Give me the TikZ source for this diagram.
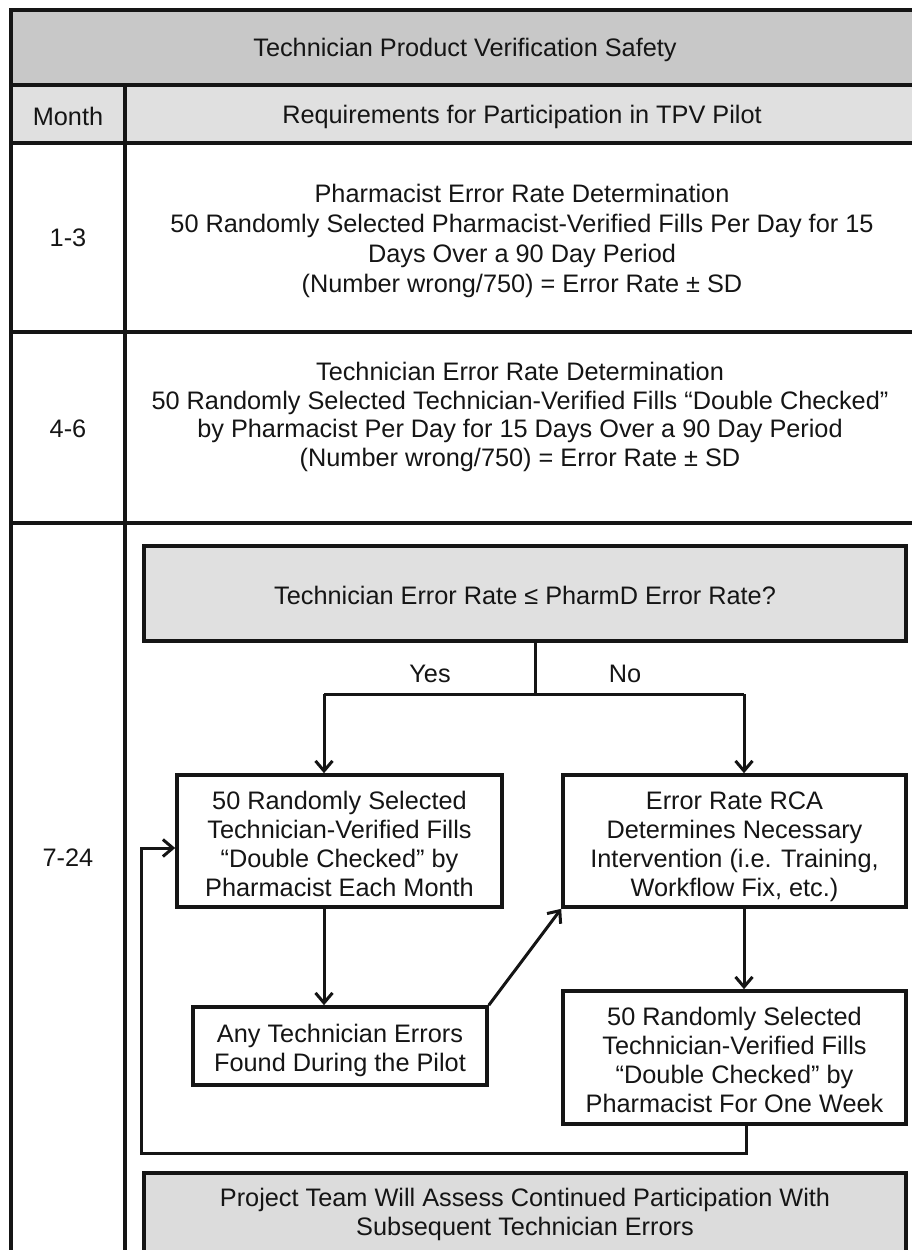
\documentclass[tikz,border=0pt]{standalone}
\usepackage{fontspec}
\setmainfont{Liberation Sans}
\usetikzlibrary{arrows.meta,shadows}
\definecolor{titlegray}{HTML}{C8C8C8}
\definecolor{headgray}{HTML}{E0E0E0}
\definecolor{decgray}{HTML}{E0E0E0}
\definecolor{egray}{HTML}{DCDCDC}
\definecolor{ink}{HTML}{151515}
\begin{document}
\begin{tikzpicture}[x=1pt,y=-1pt,
  font=\fontsize{25.3}{29}\selectfont,
  tline/.style={line width=4pt, draw=ink},
  box/.style={draw=ink, line width=3.6pt, fill=white, inner sep=0pt,
    drop shadow={shadow xshift=2pt, shadow yshift=-2pt, opacity=0.25, fill=black}},
  conn/.style={line width=3pt, draw=ink},
  arr/.style={conn, -{Straight Barb[length=10pt,width=17pt,line width=3pt]}},
  lbl/.style={inner sep=0pt, align=center, text=ink}]
\clip (0,0) rectangle (912,1250);
\fill[white] (0,0) rectangle (912,1250);
% table
\fill[titlegray] (11,10) rectangle (918,85);
\fill[headgray] (11,85) rectangle (918,143);
\draw[tline] (11,10) rectangle (918,1300);
\draw[tline] (11,85) -- (918,85);
\draw[tline] (11,143) -- (918,143);
\draw[tline] (11,332) -- (918,332);
\draw[tline] (11,523) -- (918,523);
\draw[tline] (125,85) -- (125,1300);
% table texts
\node[lbl] (title) at (465,50) {Technician Product Verification Safety};
\node[lbl] (mh) at (68,116.5) {Month};
\node[lbl] (rh) at (522,117) {Requirements for Participation in TPV Pilot};
\node[lbl] (m1) at (68,238) {1-3};
\node[lbl, font=\fontsize{25.3}{30}\selectfont] (r1) at (522,241)
  {Pharmacist Error Rate Determination\\50 Randomly Selected Pharmacist-Verified Fills Per Day for 15\\Days Over a 90 Day Period\\(Number wrong/750) = Error Rate ± SD};
\node[lbl] (m2) at (68,429) {4-6};
\node[lbl, font=\fontsize{25.3}{28.5}\selectfont] (r2) at (520,417)
  {Technician Error Rate Determination\\50 Randomly Selected Technician-Verified Fills “Double Checked”\\by Pharmacist Per Day for 15 Days Over a 90 Day Period\\(Number wrong/750) = Error Rate ± SD};
\node[lbl] (m3) at (68,858) {7-24};
% flow boxes
\node[box, fill=decgray, minimum width=762pt, minimum height=95pt] (dec) at (525,593.5) {};
\node[lbl] (dect) at (525,595.5) {Technician Error Rate ≤ PharmD Error Rate?};
\node[box, minimum width=325pt, minimum height=132pt] (A) at (339.5,841) {};
\node[lbl] (At) at (339.5,843.5)
  {50 Randomly Selected\\Technician-Verified Fills\\“Double Checked” by\\Pharmacist Each Month};
\node[box, minimum width=343pt, minimum height=132pt] (B) at (734.5,841) {};
\node[lbl] (Bt) at (734.5,847)
  {Error Rate RCA\\Determines Necessary\\Intervention (i.e. Training,\\Workflow Fix, etc.)};
\node[box, minimum width=294pt, minimum height=78pt] (C) at (340,1046) {};
\node[lbl] (Ct) at (340,1050)
  {Any Technician Errors\\Found During the Pilot};
\node[box, minimum width=343pt, minimum height=133pt] (D) at (734.5,1057.5) {};
\node[lbl] (Dt) at (734.5,1060)
  {50 Randomly Selected\\Technician-Verified Fills\\“Double Checked” by\\Pharmacist For One Week};
\node[box, fill=egray, minimum width=762pt, minimum height=97pt] (E) at (525,1221.5) {};
\node[lbl] (Et) at (525,1214.5)
  {Project Team Will Assess Continued Participation With\\Subsequent Technician Errors};
% labels
\node[lbl] (yes) at (430,674) {Yes};
\node[lbl] (no) at (625,674) {No};
% helper coordinates
\coordinate (split) at (535,694);
\coordinate (ya) at (324,694);
\coordinate (na) at (744,694);
\coordinate (xa) at (324,0);
\coordinate (xb) at (744,0);
\coordinate (xd) at (746,0);
\coordinate (xf) at (141,0);
\coordinate (yf) at (0,1153);
\coordinate (yin) at (0,848);
% connectors
\draw[conn] (dec.south -| split) -- (split);
\draw[conn] (ya) -- (na);
\draw[arr] (ya) -- (A.north -| xa);
\draw[arr] (na) -- (B.north -| xb);
\draw[arr] (A.south -| xa) -- (C.north -| xa);
\draw[arr] (C.north east) -- (B.south west);
\draw[arr] (B.south -| xb) -- (D.north -| xb);
\draw[arr] (D.south -| xd) -- (xd |- yf) -- (xf |- yf) -- (xf |- yin) -- (A.west |- yin);
\end{tikzpicture}
\end{document}
